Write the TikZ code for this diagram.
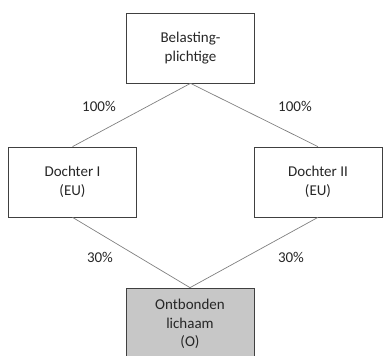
\documentclass[tikz,border=0pt]{standalone}
\usepackage{fontspec}
\setmainfont{Carlito}
\begin{document}
\begin{tikzpicture}[x=1pt,y=-1pt,
  box/.style={draw=black!75,line width=0.7pt,minimum width=128pt,minimum height=70pt,inner sep=0pt,align=center,text=black!85,font=\fontsize{15}{18.5}\selectfont},
  conn/.style={draw=black!50,line width=0.7pt},
  pct/.style={text=black!85,font=\fontsize{15}{18.5}\selectfont,inner sep=0pt}]
\useasboundingbox (0,0) rectangle (386,356);
\node[box] (top) at (190.5,48) {Belasting-\\plichtige};
\node[box] (d1) at (72.5,182) {Dochter I\\(EU)};
\node[box] (d2) at (318,182) {Dochter II\\(EU)};
\node[box,fill=black!22,minimum height=72pt] (ol) at (190,324) {Ontbonden\\lichaam\\(O)};
\draw[conn] (top.south) -- (d1.north);
\draw[conn] (top.south) -- (d2.north);
\draw[conn] (d1.south) -- (ol.north);
\draw[conn] (d2.south) -- (ol.north);
\node[pct] (p1) at (99,106) {100\%};
\node[pct] (p2) at (295,106) {100\%};
\node[pct] (p3) at (100,257) {30\%};
\node[pct] (p4) at (291,257) {30\%};
\end{tikzpicture}
\end{document}
